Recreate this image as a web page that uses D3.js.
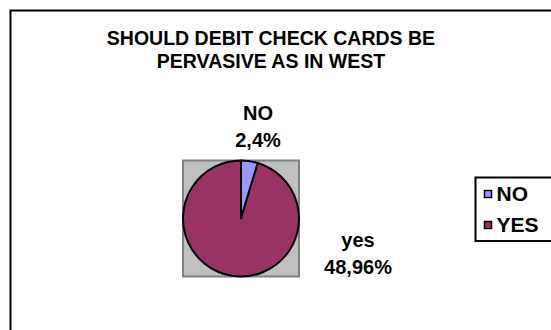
<!DOCTYPE html>
<html>
<head>
<meta charset="utf-8">
<script src="https://cdn.jsdelivr.net/npm/d3@7/dist/d3.min.js"></script>
<style>
  html, body { margin: 0; padding: 0; background: #fff; }
  svg { display: block; }
  text { font-family: "Liberation Sans", Arial, sans-serif; font-weight: bold; fill: #000; }
</style>
</head>
<body>
<svg id="chart" width="551" height="330"></svg>
<script>
const categories = ["NO", "YES"];
const labelNames = ["NO", "yes"];
const values = [2.4, 48.96];
const valueLabels = ["2,4%", "48,96%"];
const colors = ["#9999FF", "#993366"];
const titleLines = ["SHOULD DEBIT CHECK CARDS BE", "PERVASIVE AS IN WEST"];

const svg = d3.select("#chart");
const W = 551, H = 330;

// outer chart frame (extends beyond right/bottom edges)
svg.append("rect")
  .attr("x", 10.5).attr("y", 10.5)
  .attr("width", W + 20).attr("height", H + 20)
  .attr("fill", "#fff").attr("stroke", "#000").attr("stroke-width", 2);

// title
svg.append("g").selectAll("text").data(titleLines).join("text")
  .attr("x", 271)
  .attr("y", (d, i) => 45 + i * 23)
  .attr("text-anchor", "middle")
  .attr("font-size", 19.5)
  .text(d => d);

// plot area
const cx = 241, cy = 218.5, r = 58;
svg.append("rect")
  .attr("x", cx - r).attr("y", cy - r)
  .attr("width", 2 * r).attr("height", 2 * r)
  .attr("fill", "#C0C0C0").attr("stroke", "#808080").attr("stroke-width", 2);

const pie = d3.pie().sort(null).value(d => d);
const arcs = pie(values);
const arc = d3.arc().innerRadius(0).outerRadius(r);

const g = svg.append("g").attr("transform", `translate(${cx},${cy})`);
g.selectAll("path").data(arcs).join("path")
  .attr("d", arc)
  .attr("fill", (d, i) => colors[i])
  .attr("stroke", "#000")
  .attr("stroke-width", 2)
  .attr("stroke-linejoin", "round");

// data labels (manually placed in the original)
const labelPos = [[258, 120], [358, 247]];
const lg = svg.append("g");
arcs.forEach((a, i) => {
  const t = lg.append("text")
    .attr("x", labelPos[i][0]).attr("y", labelPos[i][1])
    .attr("text-anchor", "middle")
    .attr("font-size", 20);
  t.append("tspan").attr("x", labelPos[i][0]).text(labelNames[i]);
  t.append("tspan").attr("x", labelPos[i][0]).attr("dy", 27).text(valueLabels[i]);
});

// legend
const legX = 475.5, legY = 177.5;
svg.append("rect")
  .attr("x", legX).attr("y", legY)
  .attr("width", 100).attr("height", 241 - legY)
  .attr("fill", "#fff").attr("stroke", "#000").attr("stroke-width", 2);
const leg = svg.append("g").selectAll("g").data(categories).join("g")
  .attr("transform", (d, i) => `translate(${legX + 9},${legY + 13 + i * 31})`);
leg.append("rect")
  .attr("x", 0).attr("y", 0).attr("width", 7).attr("height", 7)
  .attr("fill", (d, i) => colors[i]).attr("stroke", "#000").attr("stroke-width", 1.5);
leg.append("text")
  .attr("x", 12).attr("y", 10.5)
  .attr("font-size", 21)
  .text(d => d);
</script>
</body>
</html>
